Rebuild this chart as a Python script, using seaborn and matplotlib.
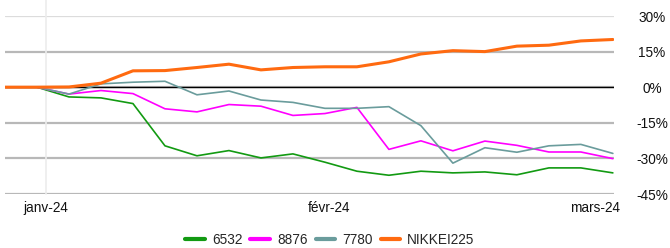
import numpy as np
import pandas as pd
import seaborn as sns
import matplotlib.pyplot as plt
from matplotlib.lines import Line2D

# données (performance cumulée en %)
dates = pd.date_range("2023-12-27 12:00", periods=20, freq="84h")
s6532 = [0, 0, -4.1, -4.5, -6.9, -24.7, -28.9, -26.7, -29.8, -28.1,
         -31.6, -35.4, -37.1, -35.4, -36.1, -35.7, -36.9, -34.0, -34.0, -36.1]
s8876 = [0, 0, -2.9, -1.4, -2.7, -9.1, -10.4, -7.3, -8.0, -11.9,
         -11.1, -8.5, -26.2, -22.6, -26.8, -22.7, -24.5, -27.3, -27.3, -30.1]
s7780 = [0, 0, -2.9, 1.4, 2.1, 2.5, -3.2, -1.6, -5.4, -6.4,
         -8.9, -8.9, -8.2, -16.2, -32.0, -25.5, -27.4, -24.7, -24.1, -27.9]
nikkei = [0, 0, 0.1, 1.7, 6.9, 7.0, 8.3, 9.7, 7.3, 8.3,
          8.6, 8.6, 10.7, 14.0, 15.4, 15.0, 17.3, 17.7, 19.5, 20.1]
series = ["6532", "8876", "7780", "NIKKEI225"]
colors = ["#129a12", "#ff00ff", "#6a9c9c", "#ff6a10"]
yticks = [-45, -30, -15, 0, 15, 30]
xtick_dates = pd.to_datetime(["2024-01-01", "2024-02-01", "2024-03-01"])
xtick_labels = ["janv-24", "févr-24", "mars-24"]

df = pd.DataFrame({"date": dates, "6532": s6532, "8876": s8876,
                   "7780": s7780, "NIKKEI225": nikkei})
df = df.melt(id_vars="date", var_name="serie", value_name="perf")

sns.set_style("white")
plt.rcParams['font.family'] = ['Liberation Sans', 'DejaVu Sans']

fig = plt.figure(figsize=(6.7, 2.48), dpi=100)
ax = fig.add_axes([5 / 670, 54 / 248, 609 / 670, 178 / 248])

# lignes horizontales
for v in yticks:
    if v == 30:
        ax.axhline(v, color="#dcdcdc", lw=0.9, zorder=0)
    elif v == 0:
        ax.axhline(v, color="#b8b8b8", lw=1.6, zorder=0)
        ax.axhline(v, color="black", lw=1.0, zorder=1)
    else:
        ax.axhline(v, color="#b8b8b8", lw=1.6, zorder=0)
ax.axvline(xtick_dates[0], ymin=0, ymax=1.09, color="#ececec", lw=1.2,
           zorder=0, clip_on=False)

palette = dict(zip(series, colors))
sizes = {"6532": 1.2, "8876": 1.2, "7780": 1.2, "NIKKEI225": 2.2}
sns.lineplot(data=df, x="date", y="perf", hue="serie", hue_order=series,
             palette=palette, size="serie", sizes=sizes, ax=ax, legend=False)

ax.set_xlim(dates[0], dates[-1] + pd.Timedelta(hours=3))
ax.set_ylim(-45, 30)
ax.set_xlabel("")
ax.set_ylabel("")
sns.despine(ax=ax, left=True, bottom=True, right=True, top=True)

ax.set_xticks(xtick_dates)
ax.set_xticklabels(xtick_labels, fontsize=9.8, color="#111111")
ax.tick_params(axis="x", length=4.3, width=1, color="#999999", pad=0.5)

ax.yaxis.tick_right()
ax.set_yticks(yticks)
ax.set_yticklabels([f"{v}%" for v in yticks], fontsize=9.8, color="#111111")
ax.tick_params(axis="y", length=0, pad=27.4)
for lbl in ax.get_yticklabels():
    lbl.set_horizontalalignment("center")

handles = [Line2D([], [], color=c, lw=3) for c in colors]
fig.legend(handles, series, loc="center", bbox_to_anchor=(330 / 670, 8 / 248),
           ncol=4, frameon=False, handlelength=1.45, handletextpad=0.5,
           columnspacing=0.6, fontsize=9.8)

fig.savefig("out.png", dpi=100)
